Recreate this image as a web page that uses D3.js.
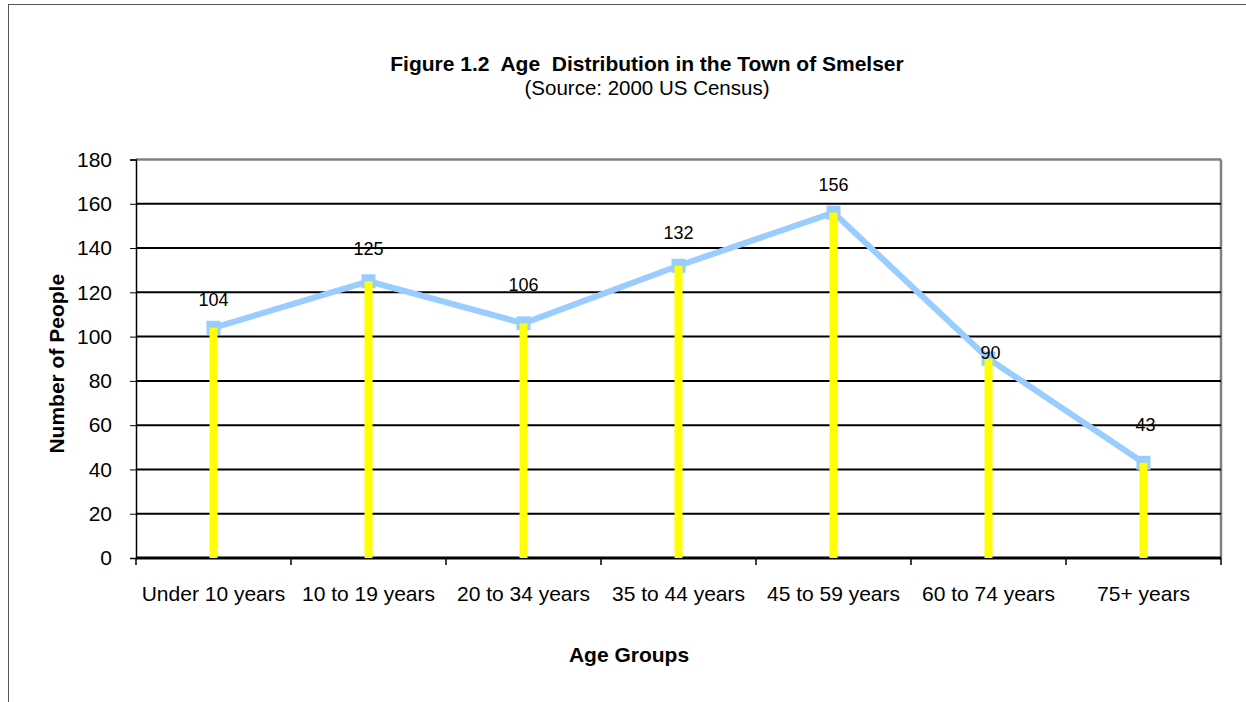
<!DOCTYPE html>
<html>
<head>
<meta charset="utf-8">
<script src="https://cdn.jsdelivr.net/npm/d3@7"></script>
<style>
  html, body { margin: 0; padding: 0; background: #fff; }
  svg text { font-family: Arial, "Liberation Sans", sans-serif; fill: #000; }
</style>
</head>
<body>
<svg id="chart" width="1246" height="702"></svg>
<script>
// Age groups and head counts
const categories = ["Under 10 years", "10 to 19 years", "20 to 34 years", "35 to 44 years",
                    "45 to 59 years", "60 to 74 years", "75+ years"];
const people = [104, 125, 106, 132, 156, 90, 43];
const yTicks = [0, 20, 40, 60, 80, 100, 120, 140, 160, 180];

// Hand-placed label nudges (dx, dy in px from the point)
const labelNudge = [[0, -28], [0, -33], [0, -39], [0, -33], [0, -28], [2, -6], [2, -38]];

const svg = d3.select("#chart");
const W = 1246, H = 702;
const m = { left: 136, right: 1221, top: 159.5, bottom: 558 };
const FS = 21;

// outer chart frame
svg.append("rect").attr("x", 8.5).attr("y", 4.5).attr("width", W + 20).attr("height", H + 20)
  .attr("fill", "none").attr("stroke", "#555").attr("stroke-width", 1);

const x = d3.scaleBand().domain(categories).range([m.left, m.right]).padding(0);
const y = d3.scaleLinear().domain([0, 180]).range([m.bottom, m.top]);

// titles
svg.append("text").attr("x", 647).attr("y", 71).attr("text-anchor", "middle")
  .attr("font-size", 21).attr("font-weight", "bold").attr("xml:space", "preserve")
  .text("Figure 1.2  Age  Distribution in the Town of Smelser");
svg.append("text").attr("x", 647).attr("y", 95).attr("text-anchor", "middle")
  .attr("font-size", 20.5).text("(Source: 2000 US Census)");

// plot frame top/right in gray
svg.append("line").attr("x1", m.left).attr("x2", m.right).attr("y1", m.top).attr("y2", m.top)
  .attr("stroke", "#808080").attr("stroke-width", 2.5);
svg.append("line").attr("x1", m.right).attr("x2", m.right).attr("y1", m.top).attr("y2", m.bottom)
  .attr("stroke", "#808080").attr("stroke-width", 2.5);

// gridlines
svg.append("g").selectAll("line").data(yTicks.filter(d => d > 0 && d < 180)).join("line")
  .attr("x1", m.left).attr("x2", m.right)
  .attr("y1", d => y(d)).attr("y2", d => y(d))
  .attr("stroke", "#000").attr("stroke-width", 2);

// y axis
const yAxis = svg.append("g").attr("transform", `translate(${m.left},0)`)
  .call(d3.axisLeft(y).tickValues(yTicks).tickSize(6).tickPadding(18));
yAxis.select(".domain").attr("stroke", "#000").attr("stroke-width", 1.5);
yAxis.selectAll(".tick line").attr("stroke", "#000").attr("stroke-width", 1);
yAxis.selectAll(".tick text").attr("font-size", FS).attr("font-family", "Arial, 'Liberation Sans', sans-serif");

// x axis with ticks at category boundaries
const xg = svg.append("g");
xg.append("line").attr("x1", m.left).attr("x2", m.right).attr("y1", m.bottom).attr("y2", m.bottom)
  .attr("stroke", "#000").attr("stroke-width", 3);
const bounds = categories.map(c => x(c)).concat([x.range()[1]]);
xg.selectAll("line.tk").data(bounds).join("line").attr("class", "tk")
  .attr("x1", d => d).attr("x2", d => d).attr("y1", m.bottom).attr("y2", m.bottom + 7)
  .attr("stroke", "#000").attr("stroke-width", 1.5);
xg.selectAll("text").data(categories).join("text")
  .attr("x", d => x(d) + x.bandwidth() / 2).attr("y", 601)
  .attr("text-anchor", "middle").attr("font-size", FS).text(d => d);

// axis titles
svg.append("text").attr("x", 629).attr("y", 662).attr("text-anchor", "middle")
  .attr("font-size", FS).attr("font-weight", "bold").text("Age Groups");
svg.append("text").attr("transform", `translate(64,${(m.top + m.bottom) / 2 + 5}) rotate(-90)`)
  .attr("text-anchor", "middle").attr("font-size", FS).attr("font-weight", "bold")
  .text("Number of People");

const cx = d => x(d) + x.bandwidth() / 2;

// line series
svg.append("path").datum(people)
  .attr("d", d3.line().x((d, i) => cx(categories[i])).y(d => y(d)))
  .attr("fill", "none").attr("stroke", "#99CCFF").attr("stroke-width", 6)
  .attr("stroke-linejoin", "round");

// square markers
svg.append("g").selectAll("rect").data(people).join("rect")
  .attr("x", (d, i) => cx(categories[i]) - 7).attr("y", d => y(d) - 7)
  .attr("width", 14).attr("height", 14).attr("fill", "#99CCFF");

// thin yellow columns
svg.append("g").selectAll("rect").data(people).join("rect")
  .attr("x", (d, i) => cx(categories[i]) - 4).attr("y", d => y(d))
  .attr("width", 8).attr("height", d => y(0) - y(d)).attr("fill", "#FFFF00");

// value labels
svg.append("g").selectAll("text").data(people).join("text")
  .attr("x", (d, i) => cx(categories[i]) + labelNudge[i][0])
  .attr("y", (d, i) => y(d) + labelNudge[i][1] + 6.5)
  .attr("text-anchor", "middle").attr("font-size", 18).text(d => d);
</script>
</body>
</html>
